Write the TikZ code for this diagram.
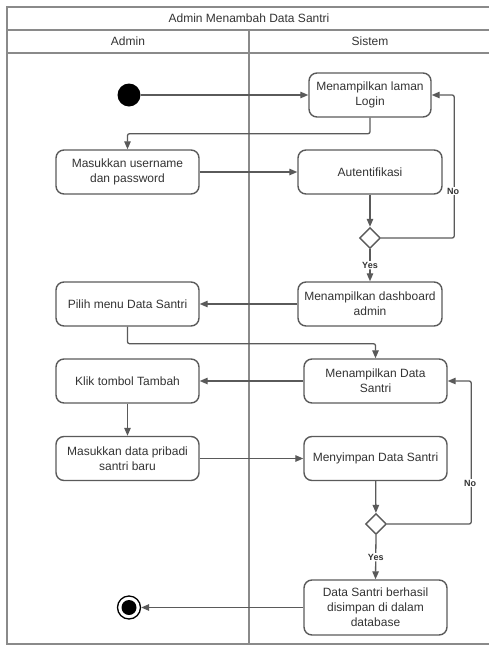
\documentclass[tikz,border=0pt]{standalone}
\usepackage{fontspec}
\setmainfont{Liberation Sans}
\usetikzlibrary{shapes.geometric,arrows.meta}
\definecolor{lineg}{HTML}{5A5A5A}
\definecolor{frameg}{HTML}{8A8A8A}
\definecolor{textg}{HTML}{333333}
\tikzset{
      lane/.style     = { draw=frameg, line width=1.6pt },
      action/.style   = { draw=lineg, line width=1.4pt, rounded corners=8pt, align=center,
                          minimum width=143pt, minimum height=44pt, inner sep=2pt,
                          text=textg, font=\fontsize{12}{15}\selectfont },
      decision/.style = { draw=lineg, line width=1.4pt, diamond, aspect=1, inner sep=0pt,
                          minimum size=21pt, fill=white },
      start/.style    = { circle, fill=black, minimum size=23pt, inner sep=0pt },
      finish/.style   = { circle, draw=black, line width=1.3pt, minimum size=23pt, inner sep=0pt,
                          path picture={\fill (path picture bounding box.center) circle (7.5pt);} },
      flow/.style     = { draw=lineg, line width=1.3pt, rounded corners=2pt,
                          -{Triangle[length=8pt,width=6.5pt]} },
      guard/.style    = { fill=white, inner sep=1pt, text=textg,
                          font=\fontsize{9}{10}\selectfont\bfseries },
      header/.style   = { text=textg, font=\fontsize{12}{14}\selectfont }
    }

\begin{document}
\begin{tikzpicture}[x=1pt, y=-1pt]
      \useasboundingbox (0,0) rectangle (488,646);
      % Draw swimlanes
      \draw[lane] (491,7) -- (7,7) -- (7,644) -- (491,644);
      \draw[lane] (7,30) -- (491,30) (7,53) -- (491,53) (249,30) -- (249,644);
      \node[header] (title)  at (249,18.5) {Admin Menambah Data Santri};
      \node[header] (admin)  at (128,41.5) {Admin};
      \node[header] (sistem) at (370,41.5) {Sistem};

      % Draw nodes
      \node[start] (start) at (129,95) {};
      \node[action, minimum width=122pt] (login) at (370,95) {Menampilkan laman\\Login};
      \node[action] (username)  at (127.5,172) {Masukkan username\\dan password};
      \node[action, minimum width=144pt] (auth) at (370,172) {Autentifikasi};
      \node[decision] (cek1) at (370,238) {};
      \node[action, minimum width=144pt] (dashboard) at (370,304) {Menampilkan dashboard\\admin};
      \node[action] (menu)      at (127.5,304) {Pilih menu Data Santri};
      \node[action] (tampil)    at (375.5,381) {Menampilkan Data\\Santri};
      \node[action] (tambah)    at (127.5,381) {Klik tombol Tambah};
      \node[action] (pribadi)   at (127.5,458.5) {Masukkan data pribadi\\santri baru};
      \node[action] (simpan)    at (375.5,458.5) {Menyimpan Data Santri};
      \node[decision] (cek2) at (376,524) {};
      \node[action, minimum height=55pt] (berhasil) at (375.5,607.5) {Data Santri berhasil\\disimpan di dalam\\database};
      \node[finish] (end) at (129,607.5) {};

      % Draw flows
      \draw[flow] (start) -- (login);
      \draw[flow] (login.south) -- ++(0,16) -| (username.north);
      \draw[flow] (username) -- (auth);
      \draw[flow] (auth) -- (cek1);
      \draw[flow] (cek1.east) -- ++(73,0) |- (login.east);
      \draw[flow] (cek1.south) -- node[guard] (yes1) {Yes} (dashboard.north);
      \draw[flow] (dashboard) -- (menu);
      \draw[flow] (menu.south) -- ++(0,17) -| (tampil.north);
      \draw[flow] (tampil) -- (tambah);
      \draw[flow] (tambah) -- (pribadi);
      \draw[flow] (pribadi) -- (simpan);
      \draw[flow] (simpan) -- (cek2);
      \draw[flow] (cek2.east) -- ++(84,0) |- (tampil.east);
      \draw[flow] (cek2.south) -- node[guard] (yes2) {Yes} (berhasil.north);
      \draw[flow] (berhasil) -- (end);

      % Draw guard labels
      \node[guard] (no1) at (453,191) {No};
      \node[guard] (no2) at (470,483) {No};
    \end{tikzpicture}
\end{document}
